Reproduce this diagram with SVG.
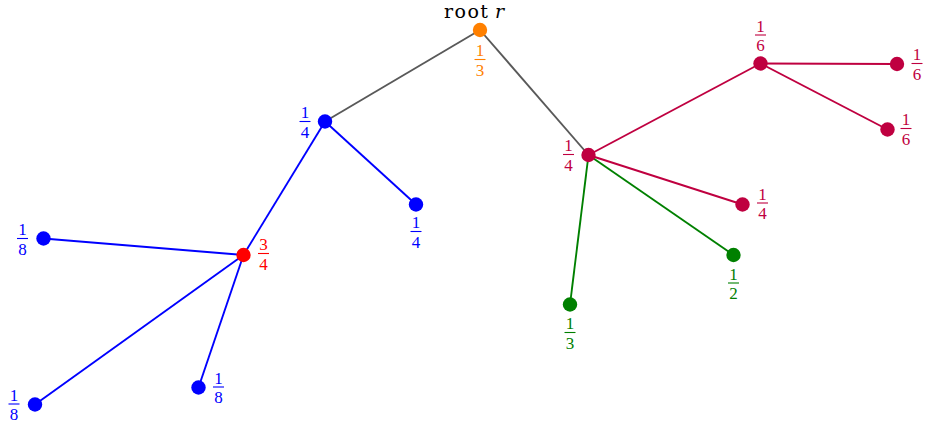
<svg xmlns="http://www.w3.org/2000/svg" width="925" height="425" viewBox="0 0 925 425">
<style>
.e{stroke-width:1.9;fill:none}
.g{stroke:#595959}
.b{stroke:#0000FF}
.p{stroke:#BF0040}
.gr{stroke:#008000}
text{font-family:"Liberation Serif","DejaVu Serif",serif}
.t{font-family:"DejaVu Serif","Liberation Serif",serif;font-size:19px;fill:#000}
.f text{font-size:17px;text-anchor:middle}
.f line{stroke-width:1.1}
.cb{fill:#0000FF}.cb line{stroke:#0000FF}
.cp{fill:#BF0040}.cp line{stroke:#BF0040}
.cg{fill:#008000}.cg line{stroke:#008000}
.co{fill:#FF8000}.co line{stroke:#FF8000}
.cr{fill:#FF0000}.cr line{stroke:#FF0000}
</style>
<rect width="925" height="425" fill="#fff"/>
<g id="connectors">
<line class="e g" x1="480" y1="30" x2="325" y2="121.5"/>
<line class="e g" x1="480" y1="30" x2="588.5" y2="155"/>
<line class="e b" x1="325" y1="121.5" x2="416" y2="204.5"/>
<line class="e b" x1="325" y1="121.5" x2="243.5" y2="255"/>
<line class="e b" x1="243.5" y1="255" x2="43.5" y2="238.5"/>
<line class="e b" x1="243.5" y1="255" x2="35" y2="404.5"/>
<line class="e b" x1="243.5" y1="255" x2="198.5" y2="387.5"/>
<line class="e p" x1="588.5" y1="155" x2="760.5" y2="63.5"/>
<line class="e p" x1="760.5" y1="63.5" x2="897" y2="64"/>
<line class="e p" x1="760.5" y1="63.5" x2="887.5" y2="129.5"/>
<line class="e p" x1="588.5" y1="155" x2="742.5" y2="204.5"/>
<line class="e gr" x1="588.5" y1="155" x2="733.5" y2="255"/>
<line class="e gr" x1="588.5" y1="155" x2="570" y2="304.5"/>
</g>
<g id="root">
<circle cx="480" cy="30" r="7.2" fill="#FF8000"/>
<text class="t" x="444" y="17.5" textLength="44" lengthAdjust="spacing">root</text>
<text class="t" x="495" y="17.5" font-style="italic">r</text>
<g class="f co"><text x="480" y="56">1</text><line x1="474.5" y1="59.5" x2="485.5" y2="59.5"/><text x="480" y="75.5">3</text></g>
</g>
<g id="nA">
<circle cx="325" cy="121.5" r="7.2" fill="#0000FF"/>
<g class="f cb"><text x="305" y="118">1</text><line x1="299.5" y1="121.5" x2="310.5" y2="121.5"/><text x="305" y="137.5">4</text></g>
</g>
<g id="nB">
<circle cx="416" cy="204.5" r="7.2" fill="#0000FF"/>
<g class="f cb"><text x="416" y="228">1</text><line x1="410.5" y1="231.5" x2="421.5" y2="231.5"/><text x="416" y="247.5">4</text></g>
</g>
<g id="nC">
<circle cx="243.5" cy="255" r="7.2" fill="#FF0000"/>
<g class="f cr"><text x="263.5" y="250">3</text><line x1="258" y1="253.5" x2="269" y2="253.5"/><text x="263.5" y="269.5">4</text></g>
</g>
<g id="nL1">
<circle cx="43.5" cy="238.5" r="7.2" fill="#0000FF"/>
<g class="f cb"><text x="22.5" y="235">1</text><line x1="17" y1="238.5" x2="28" y2="238.5"/><text x="22.5" y="254.5">8</text></g>
</g>
<g id="nL2">
<circle cx="35" cy="404.5" r="7.2" fill="#0000FF"/>
<g class="f cb"><text x="14" y="400.5">1</text><line x1="8.5" y1="404" x2="19.5" y2="404"/><text x="14" y="420">8</text></g>
</g>
<g id="nL3">
<circle cx="198.5" cy="387.5" r="7.2" fill="#0000FF"/>
<g class="f cb"><text x="218.5" y="383.5">1</text><line x1="213" y1="387" x2="224" y2="387"/><text x="218.5" y="403">8</text></g>
</g>
<g id="nP">
<circle cx="588.5" cy="155" r="7.2" fill="#BF0040"/>
<g class="f cp"><text x="568.5" y="151">1</text><line x1="563" y1="154.5" x2="574" y2="154.5"/><text x="568.5" y="170.5">4</text></g>
</g>
<g id="nQ">
<circle cx="760.5" cy="63.5" r="7.2" fill="#BF0040"/>
<g class="f cp"><text x="760.5" y="31.5">1</text><line x1="755" y1="35" x2="766" y2="35"/><text x="760.5" y="51">6</text></g>
</g>
<g id="nR1">
<circle cx="897" cy="64" r="7.2" fill="#BF0040"/>
<g class="f cp"><text x="917" y="60">1</text><line x1="911.5" y1="63.5" x2="922.5" y2="63.5"/><text x="917" y="79.5">6</text></g>
</g>
<g id="nR2">
<circle cx="887.5" cy="129.5" r="7.2" fill="#BF0040"/>
<g class="f cp"><text x="906" y="125">1</text><line x1="900.5" y1="128.5" x2="911.5" y2="128.5"/><text x="906" y="144.5">6</text></g>
</g>
<g id="nP2">
<circle cx="742.5" cy="204.5" r="7.2" fill="#BF0040"/>
<g class="f cp"><text x="762.5" y="199.5">1</text><line x1="757" y1="203" x2="768" y2="203"/><text x="762.5" y="219">4</text></g>
</g>
<g id="nG1">
<circle cx="733.5" cy="255" r="7.2" fill="#008000"/>
<g class="f cg"><text x="733.5" y="279.5">1</text><line x1="728" y1="283" x2="739" y2="283"/><text x="733.5" y="298.5">2</text></g>
</g>
<g id="nG2">
<circle cx="570" cy="304.5" r="7.2" fill="#008000"/>
<g class="f cg"><text x="570" y="329">1</text><line x1="564.5" y1="332.5" x2="575.5" y2="332.5"/><text x="570" y="348.5">3</text></g>
</g>
</svg>
